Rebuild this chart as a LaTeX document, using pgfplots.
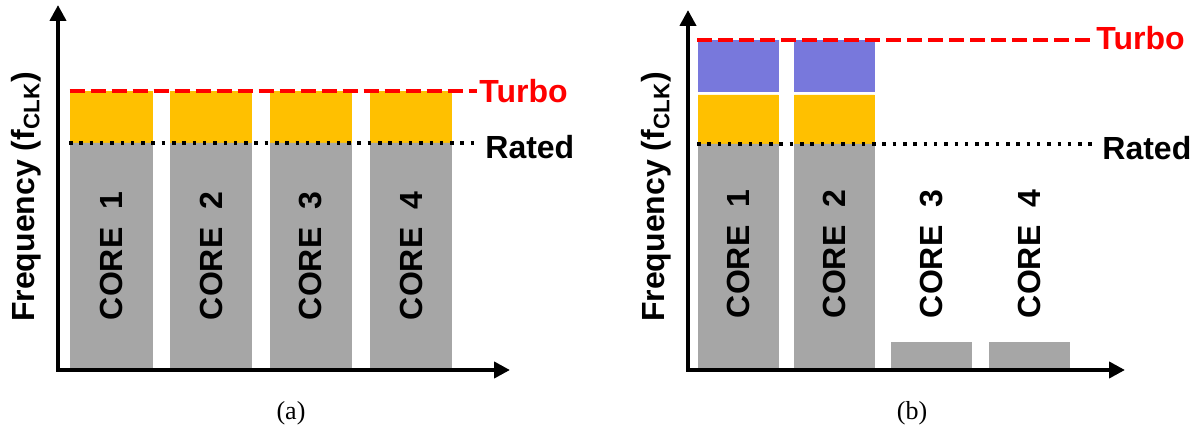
\documentclass[border=0pt]{standalone}
\usepackage{pgfplots}
\pgfplotsset{compat=1.18}
\usepackage{fontspec}
\setmainfont{Liberation Sans}
\newfontfamily\capfont{Liberation Serif}
\usetikzlibrary{arrows.meta}
\definecolor{cgray}{HTML}{A6A6A6}
\definecolor{corange}{HTML}{FFC000}
\definecolor{cpurple}{HTML}{7878DC}
\definecolor{cred}{HTML}{FF0000}
\newcommand{\lbl}{\fontsize{16}{19}\selectfont\bfseries}
\pgfplotsset{
 panel/.style={
  scale only axis, anchor=south west,
  axis lines=left, axis on top,
  axis line style={line width=2pt, line cap=rect, -{Triangle[length=8pt,width=8pt]}},
  xtick=\empty, ytick=\empty,
  ymin=0, clip=false,
 },
 bars/.style 2 args={ybar, bar width=#1, bar shift=0pt, fill=#2, draw=#2, line width=0.4pt},
 turbo/.style={cred, line width=2.4pt, dash pattern=on 7.5pt off 3pt, sharp plot, mark=none},
 rated/.style={black, line width=2pt, dash pattern=on 1.75pt off 3.4pt, sharp plot, mark=none},
}
\begin{document}
\begin{tikzpicture}
\path[use as bounding box] (0,0) rectangle (595pt,214.5pt);
% panel (a)
\begin{axis}[panel, at={(29pt,29.5pt)}, width=226pt, height=182.5pt, xmin=58, xmax=510, ymax=365]
\addplot[bars={81.5}{corange}] coordinates {(111.5,278.5) (211,278.5) (311,278.5) (411,278.5)};
\addplot[bars={81.5}{cgray}] coordinates {(111.5,227) (211,227) (311,227) (411,227)};
\addplot[turbo] coordinates {(69.5,279) (477,279)};
\addplot[rated] coordinates {(69,227) (477,227)};
\end{axis}
% panel (b)
\begin{axis}[panel, at={(344pt,29.5pt)}, width=218.5pt, height=180pt, xmin=688, xmax=1125, ymax=360]
\addplot[bars={80}{cpurple}] coordinates {(738,329.5) (834.3,329.5)};
\addplot[bars={80}{white}] coordinates {(738,277.5) (834.3,277.5)};
\addplot[bars={80}{corange}] coordinates {(738,275) (834.3,275)};
\addplot[bars={80}{cgray}] coordinates {(738,226) (834.3,226) (931,28) (1029.5,28)};
\addplot[turbo] coordinates {(697,330) (1092,330)};
\addplot[rated] coordinates {(697,226) (1092,226)};
\end{axis}
% texts (a)
\node[font=\lbl, text=cred, anchor=west, inner sep=0pt] at (239.5pt,169.2pt) {Turbo};
\node[font=\lbl, anchor=west, inner sep=0pt] at (242.5pt,141pt) {Rated};
\node[font=\lbl, rotate=90, inner sep=0pt] at (13pt,116pt) {Frequency (f\textsubscript{CLK})};
\node[font=\lbl, rotate=90, inner sep=0pt] at (55.75pt,86.5pt) {CORE\ \ 1};
\node[font=\lbl, rotate=90, inner sep=0pt] at (105.5pt,86.5pt) {CORE\ \ 2};
\node[font=\lbl, rotate=90, inner sep=0pt] at (155.5pt,86.5pt) {CORE\ \ 3};
\node[font=\lbl, rotate=90, inner sep=0pt] at (205.5pt,86.5pt) {CORE\ \ 4};
\node[font=\capfont\fontsize{13}{15}\selectfont, inner sep=0pt] at (145.5pt,8pt) {(a)};
% texts (b)
\node[font=\lbl, text=cred, anchor=west, inner sep=0pt] at (548pt,195.5pt) {Turbo};
\node[font=\lbl, anchor=west, inner sep=0pt] at (551pt,140.5pt) {Rated};
\node[font=\lbl, rotate=90, inner sep=0pt] at (328pt,116pt) {Frequency (f\textsubscript{CLK})};
\node[font=\lbl, rotate=90, inner sep=0pt] at (369pt,87.5pt) {CORE\ \ 1};
\node[font=\lbl, rotate=90, inner sep=0pt] at (417.15pt,87.5pt) {CORE\ \ 2};
\node[font=\lbl, rotate=90, inner sep=0pt] at (465.5pt,87.5pt) {CORE\ \ 3};
\node[font=\lbl, rotate=90, inner sep=0pt] at (514.75pt,87.5pt) {CORE\ \ 4};
\node[font=\capfont\fontsize{13}{15}\selectfont, inner sep=0pt] at (456pt,8pt) {(b)};
\end{tikzpicture}
\end{document}
